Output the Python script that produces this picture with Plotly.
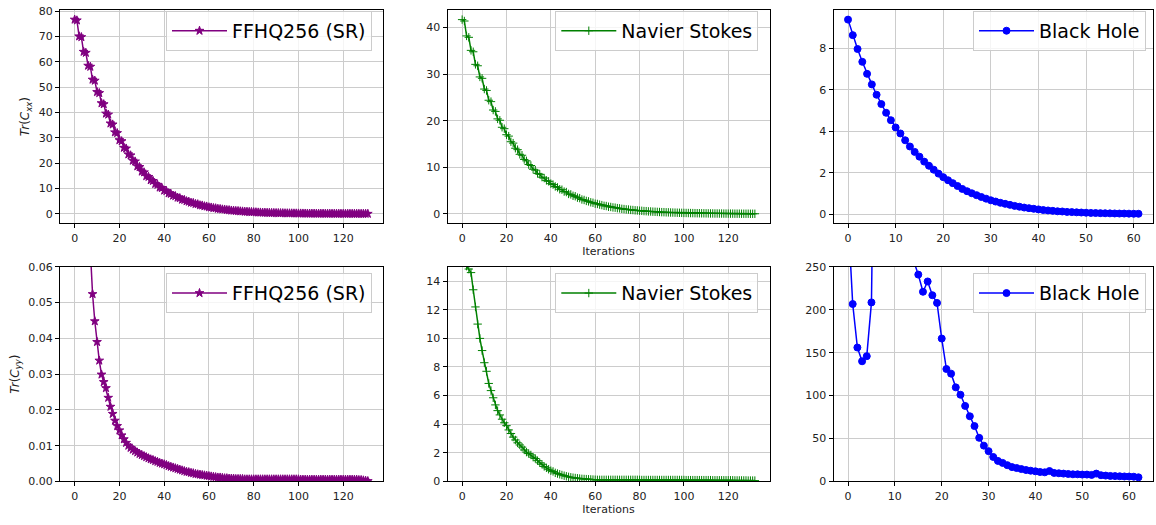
import plotly.graph_objects as go

# ---------------- data ----------------
ffhq_cxx = [76.7, 76.4, 70.1, 69.8, 64.0, 63.6, 58.5, 58.1, 53.0, 52.6, 48.1, 47.7, 43.7, 43.3,
            39.6, 39.2, 35.7, 35.3, 32.2, 31.9, 29.1, 28.7, 26.1, 25.8, 23.5, 23.1, 21.0, 20.7,
            18.8, 18.5, 16.7, 16.4, 14.9, 14.6, 13.3, 13.0, 11.8, 11.5, 10.4, 10.2, 9.2, 9.0,
            8.1, 7.9, 7.2, 7.0, 6.4, 6.2, 5.6, 5.5, 5.0, 4.8, 4.4, 4.3, 3.9, 3.8, 3.4, 3.3,
            3.0, 2.9, 2.6, 2.5, 2.3, 2.2, 2.0, 1.9, 1.75, 1.7, 1.5, 1.45, 1.3, 1.25, 1.15, 1.1,
            1.0, 0.95, 0.85, 0.82, 0.75, 0.72, 0.65, 0.62, 0.55, 0.53, 0.48, 0.46, 0.42, 0.40,
            0.36, 0.35, 0.31, 0.30, 0.27, 0.26, 0.23, 0.22, 0.20, 0.19, 0.17, 0.17, 0.15, 0.14,
            0.13, 0.12, 0.11, 0.10, 0.09, 0.09, 0.08, 0.08, 0.07, 0.07, 0.06, 0.06, 0.05, 0.05,
            0.05, 0.04, 0.04, 0.04, 0.04, 0.03, 0.03, 0.03, 0.03, 0.03, 0.02, 0.02, 0.02, 0.02,
            0.02, 0.02]

ns_cxx = [41.7, 41.4, 38.2, 37.9, 35.1, 34.8, 32.1, 31.8, 29.4, 29.1, 26.8, 26.5, 24.4, 24.1,
          22.3, 22.0, 20.4, 20.1, 18.6, 18.3, 17.0, 16.7, 15.5, 15.2, 14.1, 13.8, 12.8, 12.6,
          11.7, 11.4, 10.6, 10.4, 9.6, 9.4, 8.7, 8.5, 7.9, 7.7, 7.2, 7.0, 6.5, 6.3, 5.9, 5.7,
          5.3, 5.2, 4.8, 4.7, 4.3, 4.2, 3.9, 3.8, 3.5, 3.4, 3.1, 3.0, 2.8, 2.7, 2.5, 2.4,
          2.2, 2.15, 2.0, 1.9, 1.75, 1.7, 1.55, 1.5, 1.4, 1.35, 1.25, 1.2, 1.1, 1.05, 0.98, 0.95,
          0.87, 0.84, 0.78, 0.75, 0.70, 0.67, 0.62, 0.60, 0.55, 0.53, 0.49, 0.47, 0.44, 0.42,
          0.39, 0.38, 0.35, 0.34, 0.31, 0.30, 0.28, 0.27, 0.25, 0.24, 0.22, 0.21, 0.20, 0.19,
          0.18, 0.17, 0.16, 0.15, 0.14, 0.14, 0.13, 0.12, 0.11, 0.11, 0.10, 0.10, 0.09, 0.09,
          0.08, 0.08, 0.07, 0.07, 0.07, 0.06, 0.06, 0.06, 0.05, 0.05, 0.05, 0.05, 0.04, 0.04,
          0.04]

bh_cxx = [9.40, 8.65, 7.98, 7.36, 6.78, 6.27, 5.77, 5.32, 4.90, 4.54, 4.19, 3.90, 3.57, 3.27,
          3.01, 2.78, 2.54, 2.34, 2.15, 1.96, 1.79, 1.64, 1.50, 1.36, 1.22, 1.11, 1.01, 0.92,
          0.83, 0.75, 0.67, 0.61, 0.55, 0.50, 0.45, 0.40, 0.36, 0.32, 0.29, 0.26, 0.23, 0.20,
          0.18, 0.16, 0.14, 0.13, 0.11, 0.10, 0.09, 0.08, 0.07, 0.06, 0.055, 0.05, 0.045, 0.04,
          0.035, 0.03, 0.03, 0.025, 0.02, 0.02]

ffhq_cyy = [0.40, 0.30, 0.22, 0.16, 0.12, 0.095, 0.077, 0.063, 0.0524, 0.0448, 0.0390, 0.0338,
            0.0299, 0.0278, 0.0261, 0.0234, 0.0209, 0.0189, 0.0170, 0.0155, 0.0143, 0.0129,
            0.0118, 0.0108, 0.0100, 0.0094, 0.0089, 0.0085, 0.0081, 0.0077, 0.0074, 0.0071,
            0.0068, 0.0065, 0.0062, 0.0060, 0.0057, 0.0055, 0.0052, 0.0050, 0.0048, 0.0046,
            0.0043, 0.0041, 0.0039, 0.0037, 0.0035, 0.0033, 0.0031, 0.0029, 0.0027, 0.0026,
            0.0024, 0.0023, 0.0021, 0.0020, 0.0019, 0.0018, 0.0017, 0.0016, 0.0015, 0.0014,
            0.0013, 0.0012, 0.0011, 0.0011, 0.0010, 0.0009, 0.0009, 0.0008, 0.0008,
            0.0008, 0.0007, 0.0007, 0.0007, 0.0007, 0.0006, 0.0006, 0.0006, 0.0006, 0.0006,
            0.0006, 0.0006, 0.0006, 0.0006, 0.0006, 0.0006, 0.0006, 0.0006, 0.0006, 0.0006,
            0.0006, 0.0006, 0.0006, 0.0006, 0.0006, 0.0006, 0.0006, 0.0006, 0.0006, 0.0006,
            0.0005, 0.0005, 0.0005, 0.0005, 0.0005, 0.0005, 0.0005, 0.0005, 0.0005, 0.0005,
            0.0005, 0.0005, 0.0005, 0.0005, 0.0005, 0.0005, 0.0005, 0.0005, 0.0005, 0.0005,
            0.0005, 0.0005, 0.0005, 0.0005, 0.0005,
            0.0005, 0.0004, 0.0004, 0.0003, 0.0002, 0.0001]

ns_cyy = [16.5, 15.4, 15.05, 14.85, 14.6, 13.4, 12.2, 11.0, 10.0, 9.15, 8.3, 7.7, 6.85, 6.35,
          5.85, 5.35, 4.95, 4.65, 4.35, 4.1, 3.9, 3.6, 3.35, 3.1, 2.9, 2.7, 2.55, 2.4, 2.2,
          2.05, 1.95, 1.85, 1.7, 1.6, 1.45, 1.3, 1.2, 1.05, 0.95, 0.85, 0.75, 0.7, 0.6, 0.55,
          0.5, 0.45, 0.4, 0.36, 0.32, 0.29, 0.26, 0.24, 0.22, 0.2, 0.18, 0.17, 0.16, 0.15,
          0.14, 0.13, 0.12,
          0.11, 0.11, 0.11, 0.11, 0.11, 0.11, 0.11, 0.11, 0.11, 0.11,
          0.11, 0.11, 0.11, 0.11, 0.11, 0.11, 0.11, 0.11, 0.11, 0.11,
          0.10, 0.10, 0.10, 0.10, 0.10, 0.10, 0.10, 0.10, 0.10, 0.10,
          0.10, 0.10, 0.10, 0.10, 0.10, 0.10, 0.10, 0.10, 0.10, 0.10,
          0.09, 0.09, 0.09, 0.09, 0.09, 0.09, 0.09, 0.09, 0.09, 0.09, 0.09, 0.09,
          0.08, 0.08, 0.08, 0.08, 0.08, 0.08, 0.08, 0.08, 0.08, 0.08,
          0.07, 0.07, 0.07, 0.07, 0.07, 0.07,
          0.06, 0.06, 0.06, 0.06]

bh_cyy = [310, 206.7, 156, 140, 146, 208.6, 620, 800, 900, 850, 750, 650, 550, 400, 257,
          241, 221, 233, 217, 208, 166.5, 131, 125.6, 109.6, 101, 88, 75.9, 64.5, 50.8, 41.7,
          35.3, 28.5, 23.9, 21.6, 19, 16.7, 15.6, 14.4, 13.3, 12.5, 11.8, 11, 10.6, 12.1, 9.9,
          9.5, 9.1, 8.7, 8.3, 8.3, 8.0, 8.0, 7.6, 9.1, 7.2, 6.8, 6.4, 6.2, 6.0, 5.8, 5.7, 5.5,
          4.8]

names = ["FFHQ256 (SR)", "Navier Stokes", "Black Hole"]
colors = ["#800080", "#008000", "#0000ff"]
symbols = ["star", "cross-thin", "circle"]
msizes = [6.5, 6, 7]

# ---------------- layout geometry ----------------
W, H = 1156, 525
col_px = [(60, 382.5), (447.5, 769.5), (833.5, 1153)]
row_px = [(4, 223), (267.5, 487.5)]

fig = go.Figure()

series = [[ffhq_cxx, ns_cxx, bh_cxx], [ffhq_cyy, ns_cyy, bh_cyy]]

def mrange(vals):
    lo, hi = min(vals), max(vals)
    m = 0.05 * (hi - lo)
    return [lo - m, hi + m]

yranges = [[None, None, None], [[0, 0.06], [0, 15], [0, 250]]]
ydticks = [[10, 10, 2], [0.01, 2, 50]]
xdticks = [20, 20, 10]

legend_pos = [[(372, 5), (758.3, 5), (1146, 5)], [(372, 274), (758.3, 274), (1146, 274)]]

font = "DejaVu Sans"
layout = dict(
    width=W, height=H, margin=dict(l=0, r=0, t=0, b=0),
    paper_bgcolor="white", plot_bgcolor="white", showlegend=True,
    font=dict(family=font, size=11, color="#222"),
)

k = 0
for r in range(2):
    for c in range(3):
        k += 1
        vals = series[r][c]
        xs = list(range(len(vals)))
        ax = "" if k == 1 else str(k)
        leg = "legend" if k == 1 else "legend%d" % k
        fig.add_trace(go.Scatter(
            x=xs, y=vals, mode="lines+markers", name=names[c], showlegend=True,
            xaxis="x" + ax, yaxis="y" + ax, legend=leg,
            line=dict(color=colors[c], width=1.5),
            marker=dict(symbol=symbols[c], size=msizes[c], color=colors[c],
                        line=dict(color=colors[c], width=1)),
        ))
        x0, x1 = col_px[c]
        y0, y1 = row_px[r]
        xr = mrange(xs)
        yr = yranges[r][c] if yranges[r][c] is not None else mrange(vals)
        common = dict(showline=True, mirror=True, linecolor="black", linewidth=1,
                      ticks="outside", ticklen=4, tickcolor="black",
                      showgrid=True, gridcolor="#cccccc", gridwidth=1,
                      zeroline=False, tickfont=dict(size=11, family=font, color="#222"))
        xa = dict(common, domain=[x0 / W, x1 / W], range=xr, dtick=xdticks[c], tick0=0,
                  anchor="y" + ax)
        if c == 1:
            xa["title"] = dict(text="Iterations", font=dict(size=11, family=font), standoff=2)
        ya = dict(common, domain=[1 - y1 / H, 1 - y0 / H], range=yr, dtick=ydticks[r][c],
                  tick0=0, anchor="x" + ax)
        if r == 1 and c == 0:
            ya["tickformat"] = ".2f"
        if c == 0:
            sub = "xx" if r == 0 else "yy"
            ya["title"] = dict(text="<i>Tr</i>(<i>C</i><sub><i>%s</i></sub>)" % sub,
                               font=dict(size=12, family=font), standoff=6)
        layout["xaxis" + ax] = xa
        layout["yaxis" + ax] = ya
        lx, ly = legend_pos[r][c]
        layout[leg] = dict(x=lx / W, y=1 - ly / H, xanchor="right", yanchor="top",
                           bgcolor="rgba(255,255,255,0.8)", bordercolor="#cccccc",
                           borderwidth=1, font=dict(size=19, family=font, color="black"),
                           itemwidth=55)

fig.update_layout(**layout)
fig.write_html("out.html")
